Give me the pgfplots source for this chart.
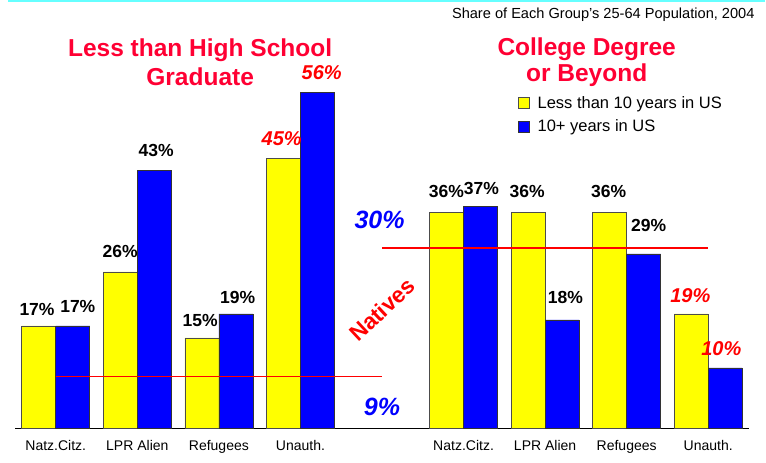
\documentclass[border=0pt]{standalone}
\usepackage{pgfplots}
\pgfplotsset{compat=1.18}
\usepackage{fontspec}
\setmainfont{Liberation Sans}
\definecolor{ttl}{RGB}{255,0,51}
\definecolor{byel}{RGB}{255,255,0}
\definecolor{bblu}{RGB}{0,0,255}
\definecolor{topline}{RGB}{102,255,255}
\newcommand{\fs}[1]{\fontsize{#1}{#1}\selectfont}

\begin{document}
\begin{tikzpicture}
\useasboundingbox (-15pt,-35pt) rectangle (751pt,428pt);
\begin{axis}[scale only axis, width=734pt, height=420pt,
  xmin=-0.5, xmax=8.5, ymin=0, ymax=70, clip=false,
  ybar=0pt, bar width=34pt,
  axis x line=bottom, axis y line=none, x axis line style={-, black, line width=0.8pt},
  xtick={0,1,2,3,5,6,7,8},
  xticklabels={Natz.Citz., LPR Alien, Refugees, Unauth., Natz.Citz., LPR Alien, Refugees, Unauth.},
  major tick length=0pt, xticklabel style={font=\fs{14}, yshift=-9pt},
  legend style={at={(0.685,0.795)}, anchor=north west, draw=none, fill=none,
    font=\fs{16.5}, row sep=6pt, column sep=6pt, inner sep=0pt, cells={anchor=west}},
  legend image code/.code={\draw[#1] (0pt,-5.5pt) rectangle (11pt,5.5pt);},
]
\addplot[fill=byel, draw=black!70, line width=0.6pt] coordinates {
  (0,17) (1,26) (2,15) (3,45) (5,36) (6,36) (7,36) (8,19)};
\addplot[fill=bblu, draw=black!80, line width=0.6pt] coordinates {
  (0,17) (1,43) (2,19) (3,56) (5,37) (6,18) (7,29) (8,10)};
\legend{Less than 10 years in US, 10+ years in US}

% natives reference lines
\addplot[sharp plot, red, line width=1.5pt, forget plot] coordinates {(0,8.6) (4,8.6)};
\addplot[sharp plot, red, line width=1.5pt, forget plot] coordinates {(4,30) (8,30)};

% value labels
\begin{scope}[every node/.style={font=\fs{17.5}\bfseries, inner sep=0pt}]
\node at (axis cs:-0.23,19.7) {17\%};
\node at (axis cs:0.27,20.3) {17\%};
\node at (axis cs:0.79,29.5) {26\%};
\node at (axis cs:1.23,46.2) {43\%};
\node at (axis cs:1.77,18.0) {15\%};
\node at (axis cs:2.23,21.7) {19\%};
\node at (axis cs:4.79,39.5) {36\%};
\node at (axis cs:5.22,39.9) {37\%};
\node at (axis cs:5.78,39.5) {36\%};
\node at (axis cs:6.25,21.7) {18\%};
\node at (axis cs:6.78,39.5) {36\%};
\node at (axis cs:7.27,33.7) {29\%};
\end{scope}
\begin{scope}[every node/.style={font=\fs{20}\bfseries\itshape, text=red, inner sep=0pt}]
\node at (axis cs:2.77,48.2) {45\%};
\node at (axis cs:3.26,59.3) {56\%};
\node at (axis cs:7.78,22.0) {19\%};
\node at (axis cs:8.16,13.2) {10\%};
\end{scope}
\node[font=\fs{25}\bfseries\itshape, text=bblu, inner sep=0pt] at (axis cs:3.97,34.7) {30\%};
\node[font=\fs{25}\bfseries\itshape, text=bblu, inner sep=0pt] at (axis cs:4.0,3.5) {9\%};
\node[font=\fs{22.5}\bfseries, text=red, rotate=43, inner sep=0pt] at (axis cs:4.0,19.7) {Natives};

% titles
\node[font=\fs{24.5}\bfseries, text=ttl, align=center, inner sep=0pt] at (axis cs:1.77,61.0)
  {Less than High School\\[4pt]Graduate};
\node[font=\fs{24.5}\bfseries, text=ttl, align=center, inner sep=0pt] at (axis cs:6.51,61.0)
  {College Degree\\[1pt]or Beyond};
\node[font=\fs{14.6}, anchor=east, inner sep=0pt] at (axis cs:8.57,68.8)
  {Share of Each Group’s 25-64 Population, 2004};
\draw[topline, line width=2.5pt] (axis cs:-0.586,71.2) -- (axis cs:8.7,71.2);
\end{axis}
\end{tikzpicture}
\end{document}
